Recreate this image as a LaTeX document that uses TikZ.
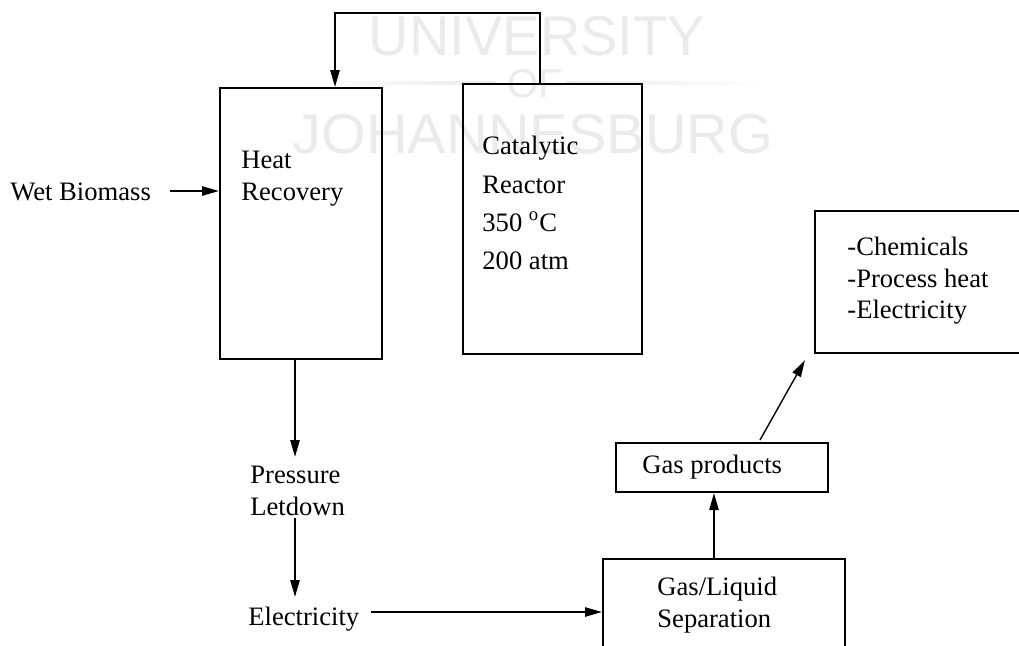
\documentclass[tikz,border=0pt]{standalone}
\usepackage{fontspec}
\setmainfont{Liberation Serif}
\newfontfamily\wmfont{Liberation Sans}
\usetikzlibrary{arrows.meta,fit,calc}
\begin{document}
\begin{tikzpicture}[x=0.5pt,y=-0.5pt,
  box/.style={draw,line width=1pt,inner sep=0pt},
  lbl/.style={anchor=base west,inner sep=0pt,font=\fontsize{13.3}{16}\selectfont},
  arr/.style={line width=1pt,-{Triangle[length=8.5pt,width=4.6pt]}},
  wm/.style={text=gray!16,inner sep=0pt,anchor=base}]
\useasboundingbox (0,0) rectangle (1019,645);
\clip (0,0) rectangle (1019,645);
\fill[white] (0,0) rectangle (1019,645);
% watermark
\node[wm,font=\wmfont\fontsize{28}{28}\selectfont] (wmu) at (537,55) {UNIVERSITY};
\node[wm,font=\wmfont\fontsize{20}{20}\selectfont] (wmo) at (535,97) {OF};
\node[wm,font=\wmfont\fontsize{28}{28}\selectfont,xscale=1.03] (wmj) at (533,153) {JOHANNESBURG};
\shade[left color=white,right color=gray!16] (300,81.5) rectangle (495,84.5);
\shade[left color=gray!16,right color=white] (566,81.5) rectangle (775,84.5);
% boxes
\node[box,fit={(220,88) (382,359)}] (heat) {};
\node[box,fit={(463,84) (642,354)}] (cat) {};
\node[box,fit={(815,211) (1030,353)}] (out) {};
\node[box,fit={(616,443) (828,492)}] (gasp) {};
\node[box,fit={(603,559) (845,670)}] (sep) {};
% texts
\node[lbl] (wet) at (10,200) {Wet Biomass};
\node[lbl] (heat1) at (241,168) {Heat};
\node[lbl] (heat2) at (241,200) {Recovery};
\node[lbl] (cat1) at (482,154) {Catalytic};
\node[lbl] (cat2) at (482,193) {Reactor};
\node[lbl] (cat3) at (482,231) {350 \textsuperscript{o}C};
\node[lbl] (cat4) at (482,269) {200 atm};
\node[lbl] (pres) at (250,483) {Pressure};
\node[lbl] (letd) at (250,515) {Letdown};
\node[lbl] (elec) at (248,625) {Electricity};
\node[lbl] (gastxt) at (642,473) {Gas products};
\node[lbl] (sep1) at (657,595) {Gas/Liquid};
\node[lbl] (sep2) at (657,627) {Separation};
\node[lbl] (out1) at (847,255) {-Chemicals};
\node[lbl] (out2) at (847,287) {-Process heat};
\node[lbl] (out3) at (847,318) {-Electricity};
% helper coordinates
\coordinate (fbR) at (540,13);
\coordinate (fbL) at (335,13);
\coordinate (wetS) at (170,191);
\coordinate (cx) at (295,0);
\coordinate (presE) at (295,457);
\coordinate (letdS) at (295,518);
\coordinate (elecE) at (295,597);
\coordinate (elS) at (371,612);
\coordinate (gx) at (714,0);
\coordinate (g1) at (760,440);
\coordinate (g2) at (805,360);
% connectors
\draw[arr] (cat.north -| fbR) -- (fbR) -- (fbL) -- (fbL |- heat.north);
\draw[arr] (wetS) -- (wetS -| heat.west);
\draw[arr] (cx |- heat.south) -- (presE);
\draw[arr] (letdS) -- (elecE);
\draw[arr] (elS) -- (elS -| sep.west);
\draw[arr] (gx |- sep.north) -- (gx |- gasp.south);
\draw[line width=0.7pt,-{Triangle[length=8.5pt,width=4.6pt]}] (g1) -- (g2);
\end{tikzpicture}
\end{document}
